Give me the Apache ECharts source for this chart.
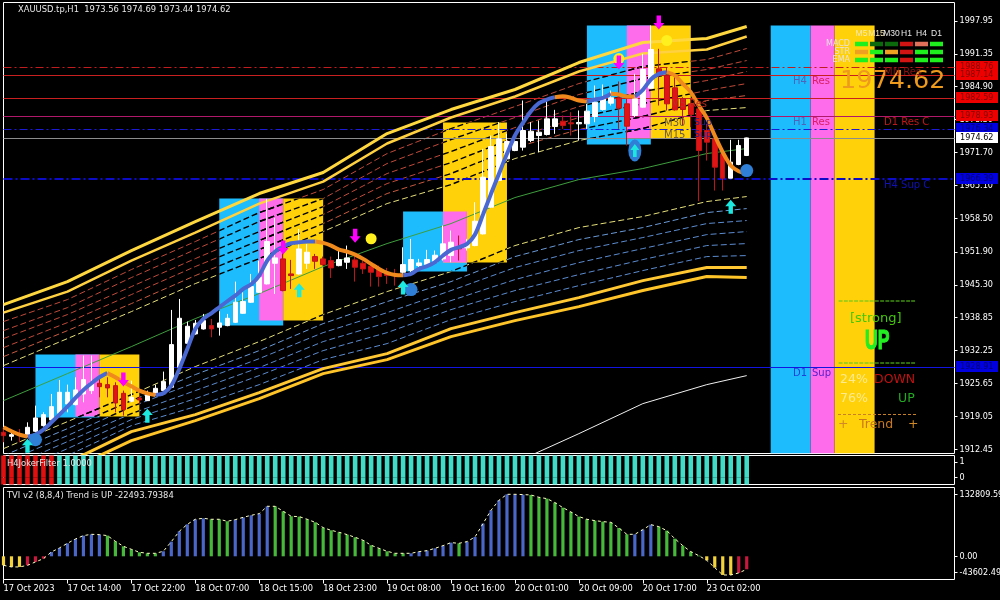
<!DOCTYPE html>
<html><head><meta charset="utf-8">
<script src="https://cdn.jsdelivr.net/npm/echarts@6/dist/echarts.min.js"></script>
<style>html,body{margin:0;padding:0;background:#000}#c{width:1000px;height:600px}</style></head>
<body><div id="c"></div>
<script>
const opens=[1915.9,1915.08,1915.55,1915.41,1916.08,1917.21,1918.34,1919.67,1921.53,1921.4,1923.53,1924.2,1925.66,1925.39,1925.19,1923.66,1922.07,1922.73,1922.2,1923.66,1924.2,1924.86,1928.85,
1933.64,1935.51,1936.5,1937.17,1936.84,1937.17,1937.83,1939.63,1941.83,1943.82,1945.49,1949.61,1950.48,1947.48,1947.48,1949.61,1950.94,1950.48,1950.14,1949.14,1949.81,1950.28,1949.61,1949.01,1948.48,1947.61,1947.48,
1947.81,1948.15,1949.15,1949.35,1949.82,1950.48,1951.15,1952.81,1952.68,1953.14,1955.47,1960.79,1966.12,1970.44,1972.1,1972.77,1974.1,1975.1,1975.3,1976.89,1977.96,1977.63,1977.43,1977.43,1978.89,1980.29,1981.55,1982.62,1981.42,1979.09,1980.76,1984.55,1988.41,1987.08,1984.62,1982.42,1981.42,1980.42,1976.1,1974.44,1971.44,1966.59,1969.31,1971.11];
const closes=[1915.2,1915.41,1915.21,1916.88,1918.74,1919.4,1921.0,1923.86,1923.86,1924.33,1926.39,1925.86,1924.99,1924.73,1921.73,1920.4,1922.86,1922.33,1923.33,1924.66,1925.99,1933.38,1938.63,
1937.04,1937.64,1938.17,1936.5,1937.7,1938.63,1941.83,1941.96,1944.95,1946.82,1953.94,1950.68,1944.16,1947.15,1952.47,1951.81,1950.01,1949.34,1948.68,1950.34,1950.68,1948.81,1948.48,1947.81,1946.95,1947.15,1947.15,
1949.34,1950.34,1949.68,1950.35,1951.21,1953.48,1953.81,1952.48,1953.48,1958.0,1966.78,1972.9,1974.43,1973.9,1973.9,1976.1,1975.96,1975.76,1978.42,1978.42,1977.09,1977.43,1977.7,1979.96,1981.75,1982.42,1982.62,1980.56,1976.96,1982.42,1988.27,1992.27,1987.54,1981.42,1980.22,1980.29,1979.29,1972.11,1973.77,1968.78,1966.59,1969.78,1973.11,1974.62];
const lows=[1913.9,1914.22,1913.88,1914.88,1915.88,1917.01,1918.21,1919.54,1919.87,1921.27,1921.87,1923.53,1922.86,1922.86,1919.87,1919.21,1921.87,1921.53,1922.2,1923.2,1924.06,1924.73,1928.72,
1933.51,1935.37,1936.37,1934.84,1935.17,1937.04,1937.7,1939.5,1941.69,1943.69,1945.35,1943.49,1944.02,1944.49,1947.35,1948.48,1948.48,1949.14,1946.68,1949.0,1948.48,1945.95,1947.48,1944.95,1944.95,1945.49,1945.15,
1947.48,1947.48,1948.49,1949.15,1949.48,1950.15,1949.82,1950.15,1952.15,1953.0,1955.34,1960.66,1965.98,1970.3,1971.97,1972.1,1973.77,1971.77,1975.1,1975.43,1976.43,1975.1,1974.1,1976.43,1977.76,1980.09,1981.09,1976.43,1973.11,1978.76,1980.62,1984.42,1981.09,1980.09,1980.09,1977.1,1976.76,1961.99,1970.11,1964.12,1964.12,1966.59,1969.18,1971.0];
const highs=[1916.9,1915.88,1916.54,1917.87,1921.2,1919.87,1923.53,1926.32,1925.39,1926.86,1931.18,1931.18,1926.86,1926.86,1925.86,1924.2,1926.19,1923.2,1924.2,1925.39,1927.99,1940.3,1942.49,
1937.97,1938.3,1939.5,1938.5,1940.03,1939.5,1945.95,1943.82,1947.48,1950.14,1962.45,1958.66,1953.47,1950.28,1956.46,1953.47,1951.47,1950.94,1950.94,1952.14,1953.14,1951.14,1950.14,1949.48,1949.14,1948.68,1948.48,
1952.8,1954.47,1950.48,1952.28,1952.15,1957.14,1956.14,1955.14,1954.47,1961.79,1972.44,1975.1,1977.76,1975.43,1975.1,1982.08,1977.76,1978.09,1982.08,1980.22,1979.09,1979.76,1980.09,1981.42,1985.08,1985.28,1984.08,1985.88,1982.62,1987.41,1991.4,1997.06,1992.4,1988.74,1987.41,1982.75,1982.42,1982.09,1977.43,1975.43,1972.11,1974.24,1974.24,1974.69];
const hma=[1916.88,1916.08,1915.41,1915.01,1915.41,1916.41,1917.87,1919.4,1921.0,1922.73,1924.33,1925.66,1926.86,1927.72,1926.86,1925.92,1925.06,1924.2,1923.66,1923.33,1923.66,1925.19,1928.52,1932.51,
1936.5,1938.5,1939.63,1940.83,1942.03,1943.16,1944.49,1945.42,1947.15,1950.14,1951.94,1952.94,1953.6,1953.8,1953.93,1953.93,1953.67,1953.14,1952.34,1951.94,1951.34,1950.48,1949.48,1948.48,1947.68,1947.28,1947.22,1947.48,
1948.49,1949.02,1949.82,1951.15,1952.28,1952.81,1953.48,1955.34,1959.33,1963.46,1967.45,1971.44,1975.1,1977.63,1979.96,1981.55,1982.28,1982.75,1982.95,1982.62,1982.08,1981.9,1982.29,1982.62,1983.42,1983.28,1982.89,1982.89,1984.22,1986.28,1987.41,1987.74,1987.08,1985.41,1983.75,1981.09,1978.63,1975.1,1971.77,1969.11,1967.98,1967.58];
const hmaTurns=[3,13,19,39,50,69,73,76,79,83];

const anchors=[0,8,16,24,32,40,48,56,64,72,80,88,93];
const bandTop1=[1941.36,1945.95,1952.14,1957.93,1963.52,1967.71,1975.49,1980.28,1984.28,1989.66,1993.66,1994.46,1996.85];
const bandTop2=[1939.76,1943.96,1950.14,1955.73,1961.52,1965.91,1973.50,1978.69,1982.88,1987.87,1991.46,1992.26,1994.85];
const red1=[1937.97,1942.36,1948.35,1953.94,1959.72,1964.32,1971.50,1976.49,1980.88,1985.47,1988.87,1990.26,1992.46];
const red2=[1936.17,1940.76,1946.75,1952.34,1957.93,1962.52,1969.51,1974.30,1978.69,1983.28,1986.47,1988.27,1990.06];
const red3=[1934.58,1939.37,1944.95,1950.54,1955.93,1960.92,1967.51,1971.90,1976.69,1980.88,1983.88,1986.07,1987.87];
const red4=[1932.78,1937.77,1943.36,1948.95,1954.14,1959.33,1965.51,1969.70,1974.69,1978.69,1981.48,1984.08,1985.47];
const red5=[1930.98,1936.17,1941.56,1947.15,1952.34,1957.53,1963.52,1967.51,1972.70,1976.29,1978.89,1982.08,1983.08];
const yellowUp=[1929.19,1934.58,1939.96,1945.55,1950.54,1955.93,1961.52,1965.31,1970.50,1974.10,1976.49,1980.08,1980.68];
const midGreen=[1922.2,1927.59,1932.98,1938.57,1943.56,1948.95,1953.54,1957.53,1962.72,1966.31,1968.51,1971.50,1972.50];
const yellowLow=[1912.62,1918.01,1923.40,1928.99,1933.98,1939.37,1943.96,1947.95,1953.14,1956.73,1958.93,1961.92,1962.92];
const blue1=[1911.22,1916.61,1922.2,1927.39,1932.18,1937.57,1941.96,1945.95,1950.94,1954.34,1956.73,1959.72,1960.52];
const blue2=[1909.83,1915.21,1921.0,1925.79,1930.58,1935.77,1939.76,1944.16,1948.75,1952.14,1954.74,1957.53,1958.13];
const blue3=[1908.43,1914.02,1919.61,1924.2,1928.79,1933.98,1937.77,1942.16,1946.35,1949.74,1952.54,1955.33,1955.93];
const blue4=[1907.03,1912.62,1918.41,1922.6,1927.19,1932.18,1935.77,1940.36,1944.16,1947.35,1950.34,1953.14,1953.54];
const blue5=[1905.63,1911.22,1917.21,1921.0,1925.39,1930.38,1933.58,1938.37,1941.96,1945.15,1948.15,1950.94,1951.14];
const bandLow1=[1904.23,1909.83,1916.01,1919.41,1923.80,1928.59,1931.58,1936.57,1939.76,1942.76,1946.15,1948.75,1948.75];
const bandLow2=[1902.64,1908.23,1914.22,1918.21,1922.6,1927.59,1930.38,1934.97,1938.17,1940.96,1944.16,1946.95,1946.75];
const slowAnchors=[64,72,80,88,93];
const slowMA=[1909.83,1915.61,1921.6,1925.39,1927.19];

// [startBar, endBar, topPrice, bottomPrice, colour key]
const boxes=[
 [4,12,1931.38,1918.81,'c'],[9,12,1931.38,1919.01,'m'],[12,17,1931.38,1919.01,'y'],
 [27,35,1962.52,1937.17,'c'],[32,35,1962.52,1938.17,'m'],[35,40,1962.52,1938.17,'y'],
 [50,58,1959.92,1947.95,'c'],[55,63,1977.69,1949.74,'y'],[55,58,1959.92,1949.74,'m'],
 [73,81,1997.05,1973.3,'c'],[78,81,1997.05,1974.5,'m'],[81,86,1997.05,1974.5,'y'],
 [96,101,1997.05,1911.65,'c'],[101,104,1997.05,1911.65,'m'],[104,109,1997.05,1911.65,'y']];

const levelValues=[1988.76,1987.14,1982.59,1978.93,1976.34,1974.62,1966.39,1928.91];
const levelKinds=['r','r','r','r','b','w','b','b'];

const arrowsUp=[[3,1913.2],[18,1919.2],[37,1944.2],[50,1944.75],[91,1960.9]];
const arrowsUpBig=[[79,1972.1]];
const arrowsDown=[[15,1926.4],[44,1955.1],[82,1997.65],[77,1989.66],[35,1952.74]];
const yellowDots=[[46,1954.5],[83,1994.06],[77,1990.46]];
const blueDots=[[4,1914.4],[51,1944.36],[93,1968.11]];
const blueOval=[[79,1972.1]];

const jokerRedBars=7;
const tviValues=[-19300,-22800,-22800,-19300,-12100,-5000,9300,17900,27800,37100,44300,47100,46400,44300,32100,21400,15000,8600,6400,6400,10700,31400,53600,68500,79300,81400,79300,79300,75000,78500,83500,87800,91400,107100,107100,96400,85700,85000,79300,72800,61400,55700,51400,46400,40700,34300,23600,17100,10700,6400,6400,6400,10000,12100,17100,22800,29300,27800,31400,41400,70000,98500,120000,132800,132800,132200,131400,126400,123500,115000,104200,95000,85000,79300,76400,74300,72800,60700,47100,47100,57100,67800,63500,55000,37800,22800,10000,1400,-8600,-24300,-40000,-40000,-35700,-27800];
const tviColors='yyyrrr'+'bbbbbbb'+'ggggggg'+'bbbbbb'+'ggg'+'bbbbb'+'ggggggggggggggggg'+'bbbbbb'+'g'+'bbbbbbbb'+'ggggggggggggg'+'bbb'+'gggggg'+'yyyy'+'rr';

const yTicks=[1997.95,1991.35,1984.90,1978.30,1971.70,1965.10,1958.50,1951.90,1945.30,1938.85,1932.25,1925.65,1919.05,1912.45];
const timeLabels=['17 Oct 2023','17 Oct 14:00','17 Oct 22:00','18 Oct 07:00','18 Oct 15:00','18 Oct 23:00','19 Oct 08:00','19 Oct 16:00','20 Oct 01:00','20 Oct 09:00','20 Oct 17:00','23 Oct 02:00'];
const tfNames=['M5','M15','M30','H1','H4','D1'];
const rowNames=['MACD','STR','EMA'];
const signalRows=[['g','d','d','r','s','g'],['o','g','o','r','g','g'],['g','g','g','r','g','g']];

const FONT="'DejaVu Sans Condensed','Liberation Sans',sans-serif";
const cats=Array.from({length:120},(_,i)=>i%8===0&&timeLabels[i/8]?timeLabels[i/8]:'b'+i);
const boxColor={c:'#1DBDFD',m:'#FF6CEB',y:'#FFD108'};
const tviPal={y:'#F3D23C',r:'#C8183E',b:'#4A66C8',g:'#46B83A'};
const sigPal={g:'#1DF01D',d:'#0B6A0B',r:'#D01414',s:'#E0705A',o:'#F0A020'};
const kinds={r:{bg:'#EE0000',fg:'#800000'},b:{bg:'#0000E0',fg:'#000070'},w:{bg:'#FFFFFF',fg:'#000000'}};
const levelLine=[
 {color:'#C01E1E',type:[8,3,2,3],width:1},{color:'#C82020',type:'solid',width:1},{color:'#C82020',type:'solid',width:1},
 {color:'#B0186A',type:'solid',width:1},{color:'#1A1AD8',type:[8,3,2,3],width:1},{color:'#8C8C8C',type:'solid',width:1},
 {color:'#0C0CC8',type:[9,3,2,3],width:2},{color:'#1414E0',type:'solid',width:1}];

function pairs(ax,v){return ax.map((a,k)=>[a,v[k]]);}
function dashSeries(vals,color){
  const common={type:'custom',xAxisIndex:0,yAxisIndex:0,clip:true,silent:true,data:pairs(anchors,vals),encode:{x:0,y:1}};
  const pts=api=>anchors.map((a,k)=>api.coord([a,vals[k]]));
  const base=Object.assign({},common,{z:1,renderItem:(p,api)=>p.dataIndex!==0?null:
    ({type:'polyline',silent:true,shape:{points:pts(api)},style:{stroke:color,fill:null,lineWidth:1,lineDash:[6,3]}})});
  const dark=Object.assign({},common,{z:3,renderItem:(p,api)=>p.dataIndex!==0?null:
    ({type:'group',children:boxes.filter(b=>b[1]<=93).map(b=>{
       const a=api.coord([b[0],b[2]]),c=api.coord([b[1],b[3]]);
       return {type:'polyline',silent:true,shape:{points:pts(api)},style:{stroke:'#000',fill:null,lineWidth:1.4,lineDash:[6,3]},
         clipPath:{type:'rect',shape:{x:a[0],y:a[1],width:c[0]-a[0],height:c[1]-a[1]}}};})})});
  return [base,dark];
}
function lineS(ax,vals,color,width,z){return {type:'line',xAxisIndex:0,yAxisIndex:0,z,data:pairs(ax,vals),symbol:'none',silent:true,
  lineStyle:{color,width},itemStyle:{color},animation:false};}
function hmaPart(up){
  const d=hma.map(()=>null);
  const edges=[0,...hmaTurns,hma.length-1];
  for(let s=0;s<edges.length-1;s++){ const isUp=s%2===1;
    if(isUp===up) for(let i=edges[s];i<=edges[s+1];i++) d[i]=hma[i]; }
  return {type:'line',xAxisIndex:0,yAxisIndex:0,z:7,data:d,smooth:0.3,symbol:'none',silent:true,connectNulls:false,
    lineStyle:{color:up?'#4A68D2':'#F08A1C',width:4},itemStyle:{color:up?'#4A68D2':'#F08A1C'}};
}
const arrowUpPath='path://M5 0 L10 6 L7 6 L7 13 L3 13 L3 6 L0 6 Z';
const arrowDownPath='path://M3 0 L7 0 L7 7 L10 7 L5 13 L0 7 L3 7 Z';
function scat(data,symbol,size,color,z){return {type:'scatter',xAxisIndex:0,yAxisIndex:0,z,data,symbol,symbolSize:size,silent:true,itemStyle:{color,opacity:1}};}

const series=[
 {type:'custom',xAxisIndex:0,yAxisIndex:0,z:2,clip:true,silent:true,data:boxes.map(b=>[b[0],b[2]]),encode:{x:0,y:1},
  renderItem:(p,api)=>{const b=boxes[p.dataIndex];const a=api.coord([b[0],b[2]]),c=api.coord([b[1],b[3]]);
    return {type:'rect',silent:true,shape:{x:a[0],y:a[1],width:c[0]-a[0],height:c[1]-a[1]},style:{fill:boxColor[b[4]]}};}},
 ...dashSeries(red1,'#C04A3A'),...dashSeries(red2,'#C04A3A'),...dashSeries(red3,'#C04A3A'),...dashSeries(red4,'#C04A3A'),...dashSeries(red5,'#C85A40'),
 ...dashSeries(yellowUp,'#E6E07A'),...dashSeries(yellowLow,'#E6E07A'),
 ...dashSeries(blue1,'#6A9AD8'),...dashSeries(blue2,'#5C8CD0'),...dashSeries(blue3,'#5C8CD0'),...dashSeries(blue4,'#5C8CD0'),...dashSeries(blue5,'#5C8CD0'),
 {type:'line',xAxisIndex:0,yAxisIndex:0,z:4,data:[],silent:true,
  markLine:{silent:true,symbol:['none','none'],animation:false,label:{show:false},
   data:levelValues.map((v,i)=>({yAxis:v,lineStyle:levelLine[i],label:{show:false}}))}},
 {type:'custom',xAxisIndex:0,yAxisIndex:0,z:10,silent:true,clip:false,
  data:levelValues.map((v,i)=>[0,v]),encode:{x:0,y:1},
  renderItem:(p,api)=>{const v=levelValues[p.dataIndex],k=kinds[levelKinds[p.dataIndex]];const c=api.coord([119,v]);
    return {type:'group',children:[
      {type:'rect',silent:true,shape:{x:c[0]+1.5,y:Math.round(c[1])-6,width:42,height:11},style:{fill:k.bg}},
      {type:'text',silent:true,style:{x:c[0]+5.5,y:Math.round(c[1])-0.5,text:v.toFixed(2),fill:k.fg,font:'9px '+FONT,verticalAlign:'middle',align:'left'}}]};}},
 lineS(anchors,midGreen,'#3E9E3E',1,5),
 lineS(slowAnchors,slowMA,'#F0F0F0',1,5),
 lineS(anchors,bandTop1,'#FFD840',3,5),lineS(anchors,bandTop2,'#FFD040',2.5,5),
 lineS(anchors,bandLow1,'#FFC832',3,5),lineS(anchors,bandLow2,'#FFC428',3,5),
 {type:'candlestick',xAxisIndex:0,yAxisIndex:0,z:6,barWidth:5,silent:true,
  data:opens.map((o,i)=>[o,closes[i],lows[i],highs[i]]),
  itemStyle:{color:'#FFFFFF',color0:'#E01414',borderColor:'#FFFFFF',borderColor0:'#C01414',borderWidth:1}},
 hmaPart(true),hmaPart(false),
 scat(blueDots,'circle',13,'#2F7FD6',8),scat(blueOval,'circle',[13,22],'#2F7FD6',8),
 scat(yellowDots,'circle',11,'#FFF01E',8),
 scat(arrowsUp,arrowUpPath,[11,14],'#1CE8E0',9),scat(arrowsUpBig,arrowUpPath,[9,13],'#1CE8E0',9),
 scat(arrowsDown,arrowDownPath,[11,14],'#FF00FF',9),
 {type:'bar',xAxisIndex:1,yAxisIndex:1,z:2,barWidth:4.6,barGap:'-100%',silent:true,
  data:tviValues.map((_,i)=>({value:1.41,itemStyle:{color:i<jokerRedBars?'#E01010':'#40DCC8'}}))},
 {type:'bar',xAxisIndex:1,yAxisIndex:1,z:2,barWidth:4.6,barGap:'-100%',silent:true,
  data:tviValues.map((_,i)=>({value:-0.43,itemStyle:{color:i<jokerRedBars?'#E01010':'#40DCC8'}}))},
 {type:'bar',xAxisIndex:2,yAxisIndex:2,z:2,barWidth:3.2,silent:true,
  data:tviValues.map((v,i)=>({value:v,itemStyle:{color:tviPal[tviColors[i]]}}))},
 {type:'line',xAxisIndex:2,yAxisIndex:2,z:3,data:tviValues,symbol:'none',silent:true,lineStyle:{color:'#FFFFC0',width:1,type:[3,3]}},
 {type:'custom',xAxisIndex:3,yAxisIndex:3,z:30,silent:true,
  data:signalRows.flatMap((r,ri)=>r.map((_,ci)=>[ci,ri])),encode:{x:0,y:1},
  renderItem:(p,api)=>{const ci=p.dataIndex%6,ri=Math.floor(p.dataIndex/6);const c=api.coord([ci,ri]);
    return {type:'rect',silent:true,shape:{x:c[0]-6.5,y:c[1]-2.25,width:13,height:4.5},style:{fill:sigPal[signalRows[ri][ci]]}};}}
];

const T=(x,y,text,fill,font,extra)=>Object.assign({type:'text',z:100,silent:true,x,y,style:Object.assign({text,fill,font,verticalAlign:'middle',align:'left'},(extra&&extra.st)||{})},extra&&extra.el||{});
const D=s=>s+"px 'DejaVu Sans'";
const S=s=>s+"px "+FONT;
const graphic=[
 T(18,10,'XAUUSD.tp,H1  1973.56 1974.69 1973.44 1974.62','#E8E8E8',S(9.3)),
 T(7,464,'H4JokerFilter 1.0000','#E8E8E8',S(9.3)),
 T(7,496,'TVI v2 (8,8,4) Trend is UP -22493.79384','#E8E8E8',S(9.3)),
 T(840,81,'1974.62','#EE9A1C',D(25.5)),
 T(793,81,'H4','#4F64B8',D(10)),T(812,81,'Res','#D81E64',D(10)),
 T(793,122,'H1','#4F64B8',D(10)),T(812,122,'Res','#D81E64',D(10)),
 T(793,373,'D1','#2040D8',D(10)),T(812,373,'Sup','#5A20C8',D(10)),
 T(884,72,'MN Res','#8A1414',D(10)),
 T(884,122,'D1 Res C','#C01818',D(10)),
 T(884,185,'H4 Sup C','#1010B4',D(10)),
 T(671,104,'M5 Res','#C03020',D(10)),
 T(664,123,'M30','#6E5A40',D(10)),T(694,123,'Sup','#23238C',D(9.5)),
 T(664,135,'M15','#6E5A40',D(10)),T(694,135,'Sup','#23238C',D(9.5)),
 T(838,301,'===============','#5CC81E',D(6.2)),
 T(838,363,'===============','#5CC81E',D(6.2)),
 T(850,319,'[strong]','#44C808',D(13)),
 T(865,342,'UP','#22EE22',"bold 27px 'Liberation Sans'",{el:{scaleX:0.65},st:{stroke:'#22EE22',lineWidth:1.2}}),
 T(840,380,'24%','#FFEA90',D(12.5)),T(874,380,'DOWN','#C01010',D(12.5)),
 T(840,399,'76%','#FFEA90',D(12.5)),T(898,399,'UP','#22AA22',D(12.5)),
 {type:'line',z:100,silent:true,shape:{x1:838,y1:414.5,x2:916,y2:414.5},style:{stroke:'#C88028',lineWidth:1,lineDash:[3,2]}},
 T(838,425,'+','#D08828',D(12.5)),T(859,425,'Trend','#C8781E',D(12.5)),T(908,425,'+','#D08828',D(12.5))
];

const yLab={color:'#FFFFFF',fontFamily:FONT,fontSize:9,margin:5};
const gridCommon={left:3.5,width:951,show:true,backgroundColor:'transparent',borderColor:'#FFFFFF',borderWidth:1,containLabel:false,outerBoundsMode:'none'};
const tickShown=i=>i%8===0&&i<=88;
const option={
 backgroundColor:'#000',animation:false,
 grid:[
  Object.assign({top:2.5,height:451},gridCommon),
  Object.assign({top:455.5,height:29},gridCommon),
  Object.assign({top:487.5,height:92},gridCommon),
  {left:854,top:40,width:90,height:24,show:false,containLabel:false,outerBoundsMode:'none'}],
 xAxis:[
  {gridIndex:0,type:'category',data:cats,boundaryGap:false,axisLine:{show:false},axisTick:{show:false},axisLabel:{show:false},splitLine:{show:false}},
  {gridIndex:1,type:'category',data:cats,boundaryGap:false,axisLine:{show:false},axisTick:{show:false},axisLabel:{show:false},splitLine:{show:false}},
  {gridIndex:2,type:'category',data:cats,boundaryGap:false,axisLine:{show:false,onZero:false},splitLine:{show:false},
   axisTick:{show:true,length:4,lineStyle:{color:'#FFFFFF'},interval:tickShown},
   axisLabel:{show:true,color:'#FFFFFF',fontFamily:FONT,fontSize:9.2,margin:5,align:'left',
     interval:tickShown,hideOverlap:false}},
  {gridIndex:3,type:'category',data:tfNames,position:'top',z:40,axisLine:{show:false},axisTick:{show:false},splitLine:{show:false},
   axisLabel:{interval:0,margin:2,fontFamily:"'Liberation Sans'",fontSize:8.5,color:(v,i)=>i<2?'#F5E8B8':'#E8E8E8'}}],
 yAxis:[
  {gridIndex:0,type:'value',position:'right',min:1911.65,max:2001.64,scale:true,splitLine:{show:false},axisLine:{show:false},
   axisTick:{show:true,length:3,inside:false,lineStyle:{color:'#FFFFFF'},customValues:yTicks},
   axisLabel:Object.assign({customValues:yTicks,formatter:v=>v.toFixed(2)},yLab)},
  {gridIndex:1,type:'value',position:'right',min:-0.43,max:1.41,splitLine:{show:false},axisLine:{show:false,onZero:false},
   axisTick:{show:true,length:3,lineStyle:{color:'#FFFFFF'},customValues:[0,1]},
   axisLabel:Object.assign({customValues:[0,1],formatter:v=>String(v)},yLab)},
  {gridIndex:2,type:'value',position:'right',min:-49700,max:147370,splitLine:{show:false},axisLine:{show:false,onZero:false},
   axisTick:{show:true,length:3,lineStyle:{color:'#FFFFFF'},customValues:[132809.59,0,-35130]},
   axisLabel:Object.assign({customValues:[132809.59,0,-35130],formatter:v=>v<0?'-43602.49':v.toFixed(2)},yLab)},
  {gridIndex:3,type:'category',data:rowNames,inverse:true,z:40,axisLine:{show:false},axisTick:{show:false},splitLine:{show:false},
   axisLabel:{interval:0,margin:4,fontFamily:"'DejaVu Sans'",fontSize:8,color:'#E8E0E0'}}],
 series,graphic
};
const chart=echarts.init(document.getElementById('c'),null,{renderer:'canvas',width:1000,height:600});
chart.setOption(option);
</script></body></html>
